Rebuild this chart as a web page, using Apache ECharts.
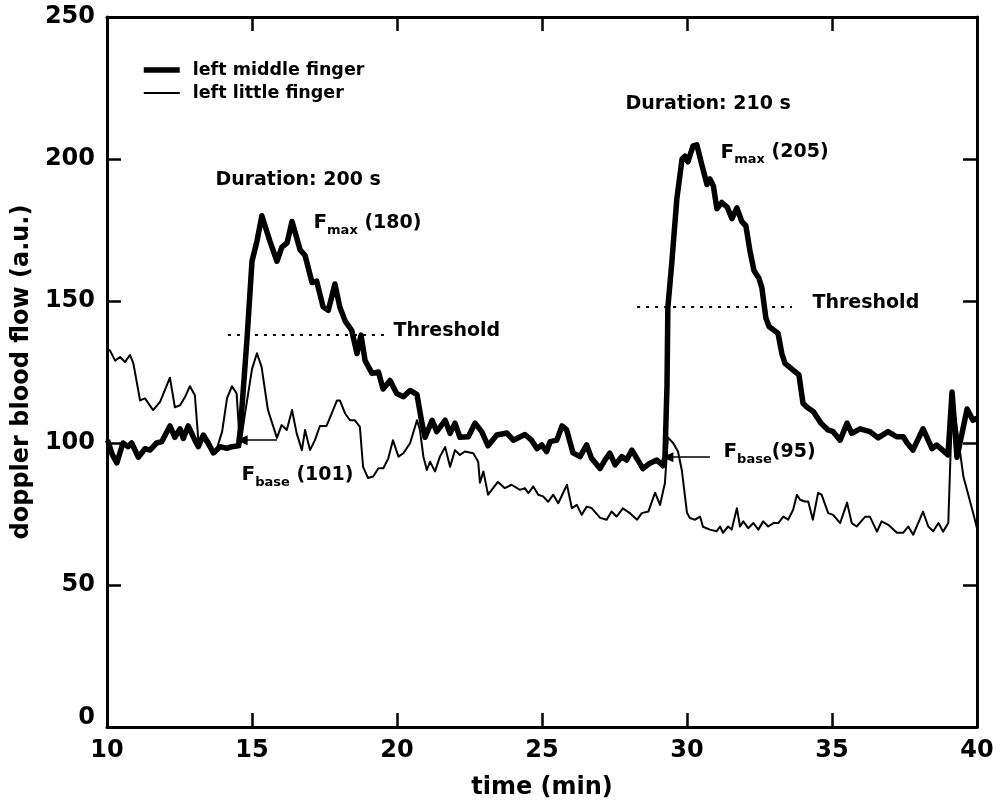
<!DOCTYPE html>
<html>
<head>
<meta charset="utf-8">
<script src="https://cdn.jsdelivr.net/npm/echarts@6/dist/echarts.min.js"></script>
<style>
  html, body { margin: 0; padding: 0; background: #fff; }
  #chart { width: 1001px; height: 805px; }
</style>
</head>
<body>
<div id="chart"></div>
<script>
// Laser-Doppler recordings of two fingers of the left hand (time in min, flow in a.u.)
const middleTime = [10.02,10.18,10.34,10.55,10.73,10.85,11.08,11.31,11.48,11.71,11.89,12.17,12.34,12.52,12.63,12.80,13.03,13.15,13.32,13.49,13.67,13.90,14.13,14.30,14.53,14.60,14.83,15.00,15.17,15.34,15.62,15.86,16.03,16.21,16.38,16.66,16.83,17.07,17.23,17.45,17.63,17.86,18.03,18.21,18.44,18.62,18.76,18.90,19.14,19.36,19.52,19.76,19.99,20.22,20.45,20.69,20.86,20.97,21.21,21.37,21.66,21.83,22.00,22.17,22.46,22.69,22.92,23.14,23.44,23.79,24.01,24.41,24.64,24.83,24.99,25.16,25.28,25.51,25.69,25.85,26.07,26.31,26.54,26.71,27.00,27.17,27.34,27.52,27.75,27.92,28.10,28.27,28.48,28.72,28.96,29.17,29.24,29.31,29.34,29.48,29.65,29.83,29.93,30.03,30.21,30.34,30.51,30.69,30.79,30.91,31.03,31.20,31.39,31.55,31.72,31.89,32.03,32.17,32.31,32.48,32.58,32.72,32.83,33.14,33.27,33.38,33.67,33.86,34.00,34.13,34.36,34.62,34.86,35.04,35.28,35.52,35.68,35.97,36.31,36.59,36.93,37.23,37.46,37.59,37.79,38.14,38.45,38.61,39.00,39.14,39.31,39.66,39.86,40.00];
const middleFlow = [101,96,93,100,98.7,100,95,98,97.5,100,100.5,106,102,105,101.6,106,101,98.7,102.8,100,96.5,98.7,98.1,98.7,99,105,137,164,171,180,171,164,169,170.5,178,168,166,156.5,157,148,146.7,156,147.8,143,139.6,131.5,138,129,124.5,125,119,122,117.4,116.3,118.5,117,107,102,108,104,108,103.4,107,102,102.2,107,104,99,102.8,103.5,101,103,101,98,99.3,97,100.5,101,106,104.6,96.5,95.2,99.3,94.6,91,94,96.4,92.3,95.2,94,97.5,94.6,91,92.9,94,92,95,120,147.7,164,186,200,201,199,204.6,205,198,191,193,190.5,182.5,184.7,183,179,182.8,178,176.5,167.7,160.7,158,154.8,144,141,138.6,131.5,128,125.6,124,114,112.7,111,107,104.6,104,101,107,103.4,105,104,101.8,104,102.2,102.2,100,97.5,105,98,99.3,95.8,118,95,112,108,108.7];

const littleTime = [10.02,10.10,10.28,10.45,10.62,10.79,10.91,11.14,11.31,11.59,11.83,12.17,12.34,12.52,12.69,12.86,13.03,13.15,13.32,13.49,13.74,13.97,14.14,14.31,14.47,14.59,14.76,15.00,15.17,15.33,15.55,15.86,16.02,16.20,16.38,16.54,16.72,16.83,17.00,17.17,17.34,17.57,17.75,17.93,18.03,18.21,18.38,18.55,18.72,18.83,19.00,19.18,19.36,19.53,19.70,19.86,20.05,20.22,20.45,20.69,20.79,20.91,21.03,21.14,21.31,21.48,21.66,21.83,22.00,22.17,22.34,22.63,22.80,22.86,22.98,23.14,23.48,23.72,23.95,24.24,24.41,24.53,24.70,24.87,25.04,25.21,25.39,25.56,25.86,26.03,26.20,26.37,26.54,26.71,27.00,27.23,27.40,27.57,27.79,28.03,28.28,28.44,28.67,28.90,29.07,29.24,29.34,29.52,29.69,29.82,30.00,30.10,30.28,30.45,30.55,30.79,31.02,31.14,31.24,31.42,31.54,31.72,31.83,31.94,32.11,32.29,32.46,32.63,32.80,32.98,33.15,33.32,33.49,33.66,33.79,33.90,34.07,34.18,34.34,34.52,34.64,34.87,35.04,35.28,35.52,35.68,35.85,36.14,36.31,36.55,36.71,36.94,37.24,37.46,37.63,37.80,38.14,38.32,38.49,38.67,38.83,39.01,39.10,39.17,39.30,39.53,39.87,40.00];
const littleFlow = [133,132.6,129,130.3,128.5,131,128,115,115.7,111.6,114.5,123,112.6,113.3,116.2,120,116.8,101,101.6,98.7,96.5,104,115.8,120,117.4,98.6,110.4,126,131.6,126.8,111.6,101.8,106.3,104.6,111.6,103.4,97.5,104.6,97.5,101,106,106,110.4,115,115,110.4,108,108,105.7,91.6,87.7,88.2,91.1,91.1,94.6,101,95.2,96.4,99.9,108,104.6,95.2,90.5,93.4,90,95.2,98.6,91.6,97.5,95.8,97,96.4,93.4,86,90,81.8,86.3,84.1,85.3,83.5,84.1,82.3,84.7,81.8,81.2,79.3,81.8,78.8,85.3,77,78.2,74.7,77.6,77.1,73.7,73,75.9,74.1,77,75.3,73,75.3,75.9,82.5,78.2,86,102,100,97,90.5,75.4,73.6,73,74.1,70.5,69.5,68.9,70.6,68.4,70.6,69.5,77,70.6,72.4,70,71.8,69.5,72.4,70.6,71.8,71.8,74.1,73,76.5,81.8,80,79.4,79.4,73,82.4,81.8,75.3,74.7,71.8,79,71.8,70.6,74,74,68.8,72.4,71.2,68.4,68.4,70.6,67.7,75.8,70.6,68.9,71.8,68.8,71.8,100,115,105.7,88.2,75.3,70];

const seriesNames = ['left middle finger', 'left little finger'];
const xTickValues = [10, 15, 20, 25, 30, 35, 40];
const yTickValues = [0, 50, 100, 150, 200, 250];

// the two provocation episodes
const durations = [200, 210];      // s
const peakFlow = [180, 205];       // F_max
const baseFlow = [101, 95];        // F_base
const thresholds = [138, 148];

const FONT = 'DejaVu Sans';
const INK = '#000';
const THICK = 5.5;
const THIN = 2;

const pairs = (ts, vs) => ts.map((t, i) => [t, vs[i]]);

function textNote(coord, formatter) {
  return {
    coord: coord,
    symbol: 'circle',
    symbolSize: 1,
    itemStyle: { color: 'rgba(0,0,0,0)' },
    label: {
      show: true,
      position: 'right',
      distance: 0,
      color: INK,
      fontFamily: FONT,
      fontWeight: 'bold',
      fontSize: 19,
      formatter: formatter,
      rich: {
        f: { fontFamily: FONT, fontWeight: 'bold', fontSize: 20, color: INK },
        s: { fontFamily: FONT, fontWeight: 'bold', fontSize: 13, color: INK, padding: [15, 0, 0, 0] },
        n: { fontFamily: FONT, fontWeight: 'bold', fontSize: 19, color: INK }
      }
    }
  };
}

const axisCommon = {
  type: 'value',
  splitLine: { show: false },
  axisLine: { show: true, onZero: false, lineStyle: { color: INK, width: 3 } },
  axisTick: { show: true, inside: true, length: 14, lineStyle: { color: INK, width: 2.5 } },
  minorTick: { show: false }
};

const labelFont = { fontFamily: FONT, fontWeight: 'bold', fontSize: 24, color: INK };

const option = {
  animation: false,
  backgroundColor: '#fff',
  grid: { left: 107, right: 24, top: 17, bottom: 77, containLabel: false },
  legend: {
    data: [
      { name: seriesNames[0], lineStyle: { width: THICK } },
      { name: seriesNames[1], lineStyle: { width: THIN } }
    ],
    orient: 'vertical',
    left: 136,
    top: 56,
    itemWidth: 36,
    itemHeight: 12,
    itemGap: 5,
    itemStyle: { opacity: 0 },
    lineStyle: { width: 'inherit' },
    textStyle: { fontFamily: FONT, fontWeight: 'bold', fontSize: 17.5, color: INK, padding: [0, 0, 0, 8] }
  },
  xAxis: [
    Object.assign({}, axisCommon, {
      position: 'bottom',
      min: xTickValues[0], max: xTickValues[xTickValues.length - 1], interval: 5,
      name: 'time (min)',
      nameLocation: 'middle',
      nameGap: 49,
      nameTextStyle: labelFont,
      axisLabel: Object.assign({ show: true, margin: 12 }, labelFont)
    }),
    Object.assign({}, axisCommon, {
      position: 'top',
      min: xTickValues[0], max: xTickValues[xTickValues.length - 1], interval: 5,
      axisLabel: { show: false }
    })
  ],
  yAxis: [
    Object.assign({}, axisCommon, {
      position: 'left',
      min: yTickValues[0], max: yTickValues[yTickValues.length - 1], interval: 50,
      name: 'doppler blood flow (a.u.)',
      nameLocation: 'middle',
      nameGap: 64,
      nameTextStyle: labelFont,
      axisLabel: Object.assign({
        show: true,
        margin: 12,
        // the zero label sits a little above the corner
        formatter: v => (v === 0 ? '{z|0}' : String(v)),
        rich: { z: Object.assign({ padding: [0, 0, 18, 0] }, labelFont) }
      }, labelFont)
    }),
    Object.assign({}, axisCommon, {
      position: 'right',
      min: yTickValues[0], max: yTickValues[yTickValues.length - 1], interval: 50,
      axisLabel: { show: false }
    })
  ],
  series: [
    {
      name: seriesNames[0],
      type: 'line',
      xAxisIndex: 0, yAxisIndex: 0,
      data: pairs(middleTime, middleFlow),
      symbol: 'none',
      lineStyle: { color: INK, width: THICK, join: 'round' },
      itemStyle: { color: INK },
      z: 3,
      markLine: {
        silent: true,
        animation: false,
        label: { show: false },
        emphasis: { disabled: true },
        lineStyle: { color: INK, width: 2, type: [3, 6] },
        data: [
          [
            { coord: [14.17, thresholds[0]], symbol: 'none' },
            { coord: [19.59, thresholds[0]], symbol: 'none' }
          ],
          [
            { coord: [28.28, thresholds[1]], symbol: 'none' },
            { coord: [33.62, thresholds[1]], symbol: 'none' }
          ],
          [
            { coord: [15.86, baseFlow[0]], symbol: 'none', lineStyle: { type: 'solid', width: 1.5, color: INK } },
            { coord: [14.66, baseFlow[0]], symbol: 'triangle', symbolSize: [10, 11], symbolRotate: 90, lineStyle: { type: 'solid', width: 1.5, color: INK } }
          ],
          [
            { coord: [30.79, baseFlow[1]], symbol: 'none', lineStyle: { type: 'solid', width: 1.5, color: INK } },
            { coord: [29.34, baseFlow[1]], symbol: 'triangle', symbolSize: [10, 11], symbolRotate: 90, lineStyle: { type: 'solid', width: 1.5, color: INK } }
          ]
        ]
      },
      markPoint: {
        silent: true,
        animation: false,
        data: [
          textNote([13.72, 192.5], 'Duration: ' + durations[0] + ' s'),
          textNote([17.10, 177.5], '{f|F}{s|max}{n| (' + peakFlow[0] + ')}'),
          textNote([19.86, 139.3], 'Threshold'),
          textNote([14.62, 88.8], '{f|F}{s|base}{n| (' + baseFlow[0] + ')}'),
          textNote([27.86, 219.4], 'Duration: ' + durations[1] + ' s'),
          textNote([31.14, 202.3], '{f|F}{s|max}{n| (' + peakFlow[1] + ')}'),
          textNote([34.31, 149.3], 'Threshold'),
          textNote([31.24, 96.8], '{f|F}{s|base}{n|(' + baseFlow[1] + ')}')
        ]
      }
    },
    {
      name: seriesNames[1],
      type: 'line',
      xAxisIndex: 0, yAxisIndex: 0,
      data: pairs(littleTime, littleFlow),
      symbol: 'none',
      lineStyle: { color: INK, width: THIN, join: 'round' },
      itemStyle: { color: INK },
      z: 2
    }
  ]
};

const chart = echarts.init(document.getElementById('chart'), null, { renderer: 'canvas' });
chart.setOption(option);
</script>
</body>
</html>
